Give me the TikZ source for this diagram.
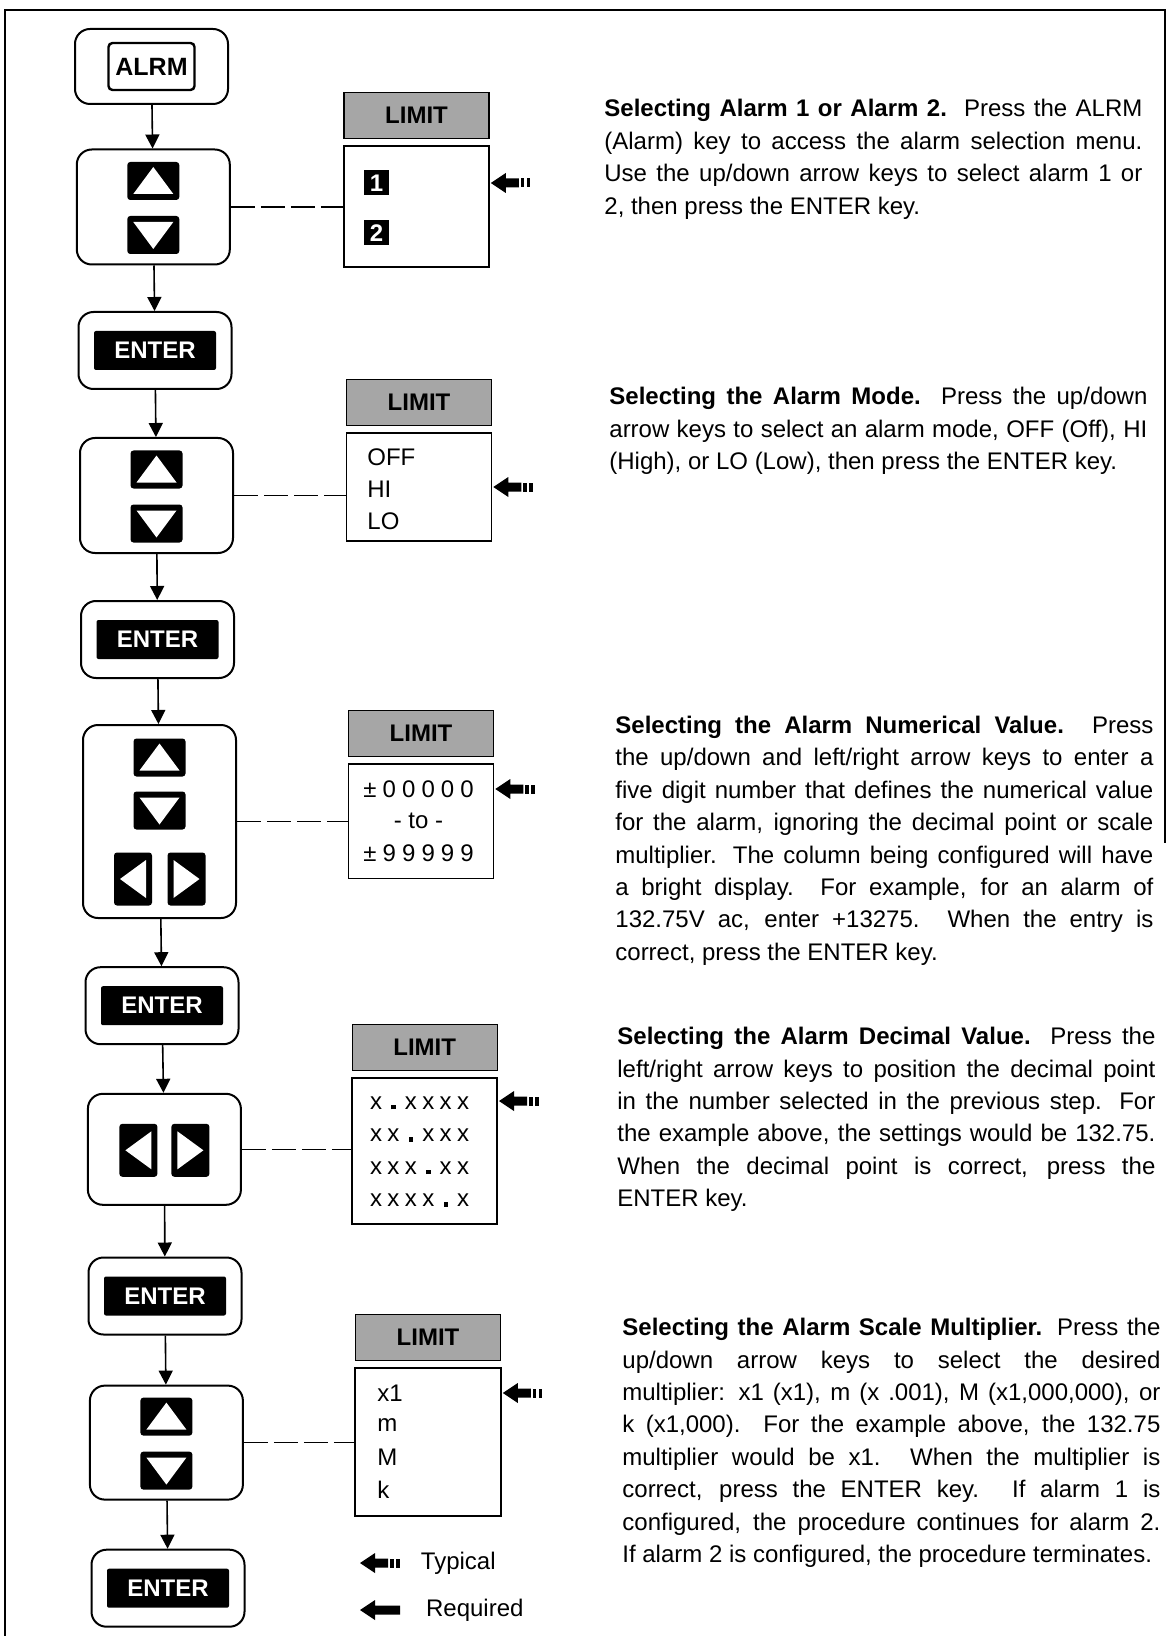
\documentclass[tikz,border=0pt,12pt]{standalone}
\usepackage{fontspec}
\setmainfont{Liberation Sans}
\usetikzlibrary{positioning,calc,arrows.meta}
\tolerance=10000
\hbadness=10000
\def\spreadw{9.7pt}
\def\sqdot{\rule{2.2pt}{2.2pt}}
\def\spreadchars#1{\ifx#1\relax\else\makebox[\spreadw]{#1}\expandafter\spreadchars\fi}

\begin{document}
\begin{tikzpicture}[x=0.5pt, y=-0.5pt,
    every node/.style={font=\fontsize{12}{14}\selectfont},
    keyframe/.style={draw, line width=1pt, rounded corners=7.5pt, minimum width=76.5pt, inner sep=0},
    enterkey/.style={fill=black, text=white, rounded corners=1pt, minimum width=61pt, minimum height=19.5pt, inner sep=0, font=\fontsize{12}{14}\selectfont\bfseries},
    alrmkey/.style={draw, line width=1.2pt, rounded corners=2pt, minimum width=43pt, minimum height=23.5pt, inner sep=0, font=\fontsize{12.5}{14}\selectfont\bfseries},
    limhead/.style={draw, line width=0.6pt, fill=black!35, minimum width=72.5pt, minimum height=23pt, inner sep=0, font=\fontsize{12}{14}\selectfont\bfseries},
    limbody/.style={draw, line width=0.8pt, minimum width=72.5pt, inner sep=0},
    numsq/.style={fill=black, text=white, minimum size=12.5pt, inner sep=0, font=\fontsize{12}{13}\selectfont\bfseries},
    listitem/.style={inner sep=0},
    para/.style={anchor=base west, inner sep=0, font=\fontsize{12}{16.2}\selectfont},
    flowarr/.style={line width=0.8pt, -{Triangle[width=7pt,length=7pt]}},
    dashlink/.style={line width=0.8pt, dash pattern=on 12pt off 3pt},
    udkey/.pic={
        \fill[rounded corners=1.5pt] (-26,-19) rectangle (26,19);
        \fill[white] (-20,13) -- (20,13) -- (0,-14) -- cycle;
    },
    lrkey/.pic={
        \fill[rounded corners=1.5pt] (-19,-26.5) rectangle (19,26.5);
        \fill[white] (-13,0) -- (13,-19) -- (13,19) -- cycle;
    },
    typarr/.pic={
        \fill (0,0) -- (15,-10) -- (15,-4.5) -- (28,-4.5) -- (28,4.5) -- (15,4.5) -- (15,10) -- cycle;
        \fill (30,-4.5) rectangle (33.5,4.5);
        \fill (36,-4.5) rectangle (39.5,4.5);
    },
    reqarr/.pic={
        \fill (0,0) -- (15,-10) -- (15,-4.5) -- (40,-4.5) -- (40,4.5) -- (15,4.5) -- (15,10) -- cycle;
    }]
    \useasboundingbox (0,0) rectangle (1175,1636);

    % page border
    \draw[line width=0.8pt] (5,1636) -- (5,10) -- (1165,10) -- (1165,843);

    % key sequence
    \node[keyframe, minimum height=37.5pt] (f1) at (151.5,66.5) {};
    \node[keyframe, minimum height=57.5pt] (f2) at (153.3,207) {};
    \node[keyframe, minimum height=38.5pt] (f3) at (155,350.5) {};
    \node[keyframe, minimum height=57.5pt] (f4) at (156.5,495.5) {};
    \node[keyframe, minimum height=38.5pt] (f5) at (157.5,639.5) {};
    \node[keyframe, minimum height=96.5pt] (f6) at (159.5,821.5) {};
    \node[keyframe, minimum height=38.5pt] (f7) at (162,1005.7) {};
    \node[keyframe, minimum height=55.5pt] (f8) at (164.4,1149.3) {};
    \node[keyframe, minimum height=38.5pt] (f9) at (165,1296) {};
    \node[keyframe, minimum height=57pt] (f10) at (166.4,1442.6) {};
    \node[keyframe, minimum height=38.5pt] (f11) at (168,1588.2) {};

    \node[alrmkey] (alrm) at (f1) {ALRM};
    \foreach \f in {f3,f5,f7,f9,f11}
        \node[enterkey] (\f e) at (\f) {ENTER};
    \foreach \f in {f2,f4,f10} {
        \pic at ($(\f)+(0,-26)$) {udkey};
        \pic[rotate=180] at ($(\f)+(0,28)$) {udkey};
    }
    \pic at ($(f6)+(0,-64)$) {udkey};
    \pic[rotate=180] at ($(f6)+(0,-11)$) {udkey};
    \pic at ($(f6)+(-26.5,57.5)$) {lrkey};
    \pic[rotate=180] at ($(f6)+(27,57.5)$) {lrkey};
    \pic at ($(f8)+(-26,1)$) {lrkey};
    \pic[rotate=180] at ($(f8)+(26,1)$) {lrkey};

    \foreach \a/\b in {f1/f2,f2/f3,f3/f4,f4/f5,f5/f6,f6/f7,f7/f8,f8/f9,f9/f10,f10/f11}
        \draw[flowarr] (\a) -- (\b);

    % LIMIT displays
    \node[limbody, minimum height=60.5pt] (b1) at (416.5,206.5) {};
    \node[limbody, minimum height=54.25pt] (b2) at (419,487) {};
    \node[limbody, minimum height=57.3pt] (b3) at (421,821.3) {};
    \node[limbody, minimum height=73pt] (b4) at (424.7,1151) {};
    \node[limbody, minimum width=73pt, minimum height=74pt] (b5) at (428,1442) {};
    \foreach \i in {1,...,5}
        \node[limhead, above=3pt of b\i] (h\i) {LIMIT};

    \node[numsq] (l1i0) at (376.5,183) {1};
    \node[numsq] (l1i1) at (376.5,233) {2};
    \foreach \t [count=\i from 0] in {OFF,HI,LO}
        \node[listitem, anchor=west] (l2i\i) at (367,457+32*\i) {\t};
    \node[listitem] (l3i0) at (418.5,789) {\spreadchars ±00000\relax};
    \node[listitem] (l3i1) at (418.5,821) {- to -};
    \node[listitem] (l3i2) at (418.5,853.6) {\spreadchars ±99999\relax};
    \def\spreadw{8.7pt}
    \foreach \t [count=\i from 0] in {x\sqdot xxxx,xx\sqdot xxx,xxx\sqdot xx,xxxx\sqdot x}
        \node[listitem, anchor=west] (l4i\i) at (367,1103+32.4*\i) {\expandafter\spreadchars\t\relax};
    \foreach \t [count=\i from 0] in {x1,m,M,k}
        \node[listitem, anchor=west] (l5i\i) at (377,1393+32.3*\i) {\t};

    \draw[dashlink] (f2.east) -- (f2.east -| b1.west);
    \draw[dashlink] (f4.east) -- (f4.east -| b2.west);
    \draw[dashlink] (f6.east) -- (f6.east -| b3.west);
    \draw[dashlink] (f8.east) -- (f8.east -| b4.west);
    \draw[dashlink] (f10.east) -- (f10.east -| b5.west);

    \pic at ($(b1.east |- l1i0)+(1,0)$) {typarr};
    \pic at ($(b2.east |- l2i1)+(1,-2)$) {typarr};
    \pic at ($(b3.east |- l3i0)+(1,0)$) {typarr};
    \pic at ($(b4.east |- l4i0)+(1,-2)$) {typarr};
    \pic at ($(b5.east |- l5i0)+(1,0)$) {typarr};

    % legend
    \pic at (360,1563) {typarr};
    \node[listitem, anchor=west] (typ) at (420.5,1563) {Typical};
    \pic at (360,1610) {reqarr};
    \node[listitem, anchor=west] (req) at (425.7,1610) {Required};

    % descriptions
    \node[para] (t1) at (604,117) {\parbox[t]{269pt}{\textbf{Selecting Alarm 1 or Alarm 2.}\ \ Press the ALRM\linebreak
        (Alarm) key to access the alarm selection menu.\linebreak
        Use the up/down arrow keys to select alarm 1 or\linebreak
        2, then press the ENTER key.}};
    \node[para] (t2) at (609,405) {\parbox[t]{269pt}{\textbf{Selecting the Alarm Mode.} Press the up/down\linebreak
        arrow keys to select an alarm mode, OFF (Off), HI\linebreak
        (High), or LO (Low), then press the ENTER key.}};
    \node[para] (t3) at (615,733.5) {\parbox[t]{269pt}{\textbf{Selecting the Alarm Numerical Value.} Press\linebreak
        the up/down and left/right arrow keys to enter a\linebreak
        five digit number that defines the numerical value\linebreak
        for the alarm, ignoring the decimal point or scale\linebreak
        multiplier. The column being configured will have\linebreak
        a bright display. For example, for an alarm of\linebreak
        132.75V ac, enter +13275. When the entry is\linebreak
        correct, press the ENTER key.}};
    \node[para] (t4) at (617,1044.6) {\parbox[t]{269pt}{\textbf{Selecting the Alarm Decimal Value.} Press the\linebreak
        left/right arrow keys to position the decimal point\linebreak
        in the number selected in the previous step. For\linebreak
        the example above, the settings would be 132.75.\linebreak
        When the decimal point is correct, press the\linebreak
        ENTER key.}};
    \node[para] (t5) at (622,1335.6) {\parbox[t]{269pt}{\textbf{Selecting the Alarm Scale Multiplier.} Press the\linebreak
        up/down arrow keys to select the desired\linebreak
        multiplier: x1 (x1), m (x .001), M (x1,000,000), or\linebreak
        k (x1,000). For the example above, the 132.75\linebreak
        multiplier would be x1. When the multiplier is\linebreak
        correct, press the ENTER key. If alarm 1 is\linebreak
        configured, the procedure continues for alarm 2.\linebreak
        If alarm 2 is configured, the procedure terminates.}};
\end{tikzpicture}
\end{document}
